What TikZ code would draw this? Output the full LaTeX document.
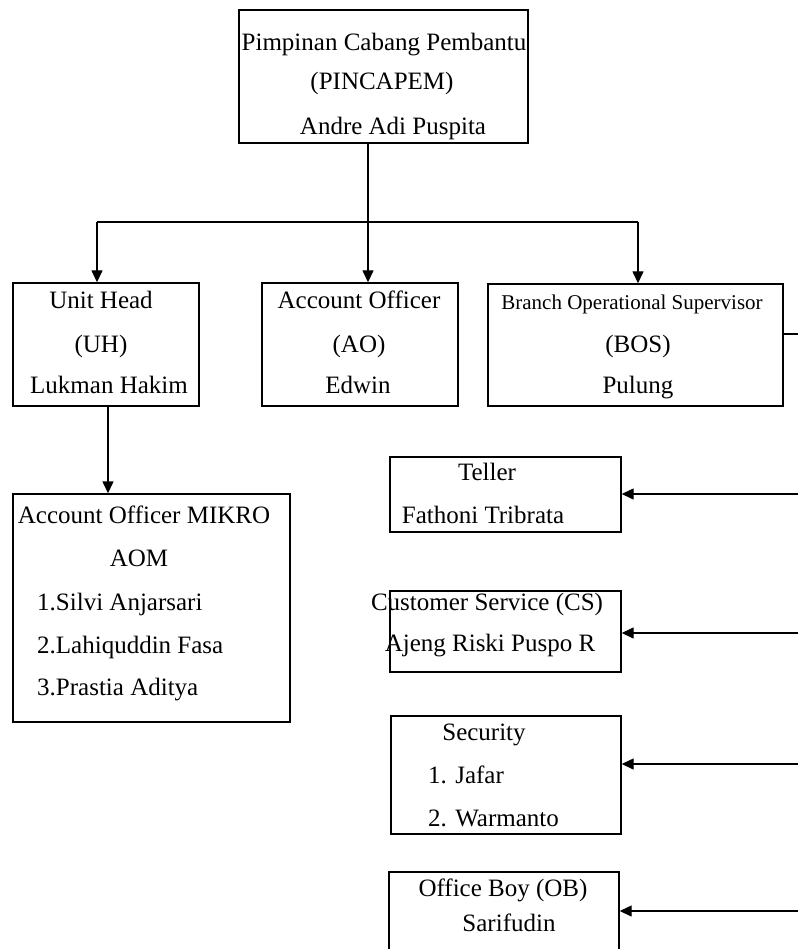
\documentclass[tikz,border=0pt]{standalone}
\usepackage{fontspec}
\setmainfont{Liberation Serif}
\usepackage{tikz}
\usetikzlibrary{arrows.meta}
\tikzset{
  >={Triangle[length=12pt,width=11pt]},
  orgbox/.style={draw=black,line width=1.4pt,inner sep=0pt},
  conn/.style={line width=1.4pt,black},
  arr/.style={->,line width=1.4pt,black},
  txt/.style={anchor=base,inner sep=0pt,font=\fontsize{25}{30}\selectfont},
  txtl/.style={txt,anchor=base west},
  txts/.style={txt,font=\fontsize{21}{25}\selectfont},
}
\begin{document}
\begin{tikzpicture}[x=1pt,y=-1pt]
  \useasboundingbox (0,0) rectangle (798,949);
  \clip (0,0) rectangle (798,949);
  % boxes
  \node[orgbox,minimum width=289pt,minimum height=133pt] (pin) at (383.5,76.5) {};
  \node[orgbox,minimum width=186pt,minimum height=123pt] (uh) at (106,344.5) {};
  \node[orgbox,minimum width=196pt,minimum height=123pt] (ao) at (360,344.5) {};
  \node[orgbox,minimum width=295pt,minimum height=122pt] (bos) at (635.5,345) {};
  \node[orgbox,minimum width=277pt,minimum height=228pt] (aom) at (151.5,608) {};
  \node[orgbox,minimum width=231pt,minimum height=75pt] (tel) at (505.5,494.5) {};
  \node[orgbox,minimum width=231pt,minimum height=81pt] (cs) at (505.5,631.5) {};
  \node[orgbox,minimum width=230pt,minimum height=118pt] (sec) at (506,775) {};
  \node[orgbox,minimum width=230pt,minimum height=118pt] (ob) at (504,931) {};
  % texts
  \node[txt] (pin1) at (384,51) {Pimpinan Cabang Pembantu};
  \node[txt] (pin2) at (382,90) {(PINCAPEM)};
  \node[txt] (pin3) at (393,135) {Andre Adi Puspita};
  \node[txt] (uh1) at (101,308) {Unit Head};
  \node[txt] (uh2) at (101,352) {(UH)};
  \node[txt] (uh3) at (109,393) {Lukman Hakim};
  \node[txt] (ao1) at (359,308) {Account Officer};
  \node[txt] (ao2) at (359,352) {(AO)};
  \node[txt] (ao3) at (358,393) {Edwin};
  \node[txts] (bos1) at (632,309) {Branch Operational Supervisor};
  \node[txt] (bos2) at (638,352) {(BOS)};
  \node[txt] (bos3) at (638,393) {Pulung};
  \node[txt] (aom1) at (144,523) {Account Officer MIKRO};
  \node[txt] (aom2) at (139,566) {AOM};
  \node[txtl] (aom3) at (37,610) {1.Silvi Anjarsari};
  \node[txtl] (aom4) at (37,653) {2.Lahiquddin Fasa};
  \node[txtl] (aom5) at (37,695) {3.Prastia Aditya};
  \node[txt] (tel1) at (487,480) {Teller};
  \node[txt] (tel2) at (483,523) {Fathoni Tribrata};
  \node[txt] (cs1) at (487,610) {Customer Service (CS)};
  \node[txt] (cs2) at (490,651) {Ajeng Riski Puspo R};
  \node[txt] (sec1) at (484,740) {Security};
  \node[txtl] (sec2) at (428,783) {1. Jafar};
  \node[txtl] (sec3) at (428,826) {2. Warmanto};
  \node[txt] (ob1) at (503,896) {Office Boy (OB)};
  \node[txt] (ob2) at (509,931) {Sarifudin};
  % connectors
  \coordinate (jn) at (368,222);
  \coordinate (jl) at (97,222);
  \coordinate (jr) at (638,222);
  \coordinate (ux) at (108,450);
  \draw[conn] (pin.south -| jn) -- (jn);
  \draw[conn] (jl) -- (jr);
  \draw[arr] (jl) -- (uh.north -| jl);
  \draw[arr] (jn) -- (ao.north -| jn);
  \draw[arr] (jr) -- (bos.north -| jr);
  \draw[arr] (uh.south -| ux) -- (aom.north -| ux);
  \coordinate (rb) at (798,334);
  \coordinate (r1) at (798,494);
  \coordinate (r2) at (798,633);
  \coordinate (r3) at (798,764);
  \coordinate (r4) at (798,911);
  \draw[conn] (bos.east |- rb) -- (rb);
  \draw[arr] (r1) -- (tel.east |- r1);
  \draw[arr] (r2) -- (cs.east |- r2);
  \draw[arr] (r3) -- (sec.east |- r3);
  \draw[arr] (r4) -- (ob.east |- r4);
\end{tikzpicture}
\end{document}
